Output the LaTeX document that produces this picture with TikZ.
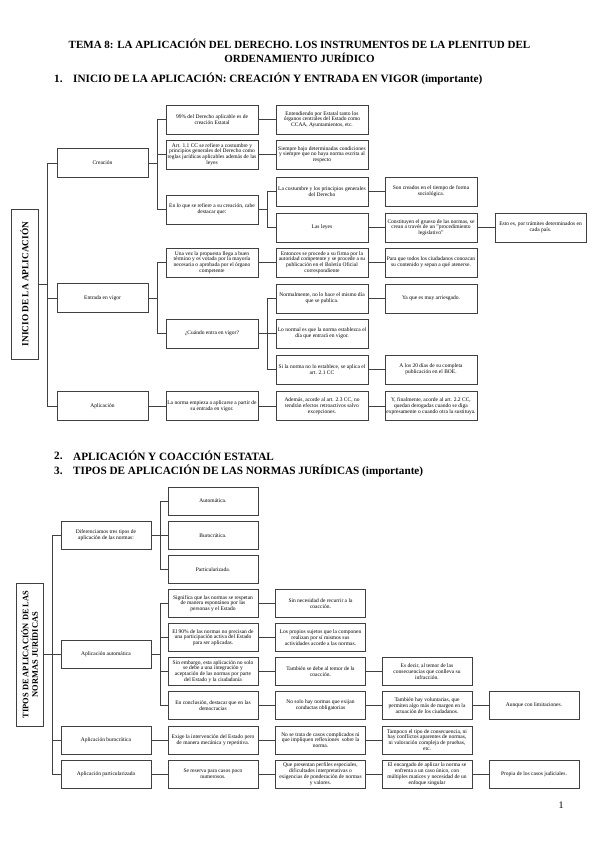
\documentclass[tikz,border=0pt]{standalone}
\usepackage{fontspec}
\setmainfont{Liberation Serif}
\begin{document}
\begin{tikzpicture}[x=1pt,y=-1pt,
  bx/.style={draw=black!75, line width=0.8pt, minimum width=92pt, minimum height=29pt, align=center, inner sep=0.3pt, font=\fontsize{5.5}{5.8}\selectfont},
  bxb/.style={bx, minimum width=90pt, minimum height=28pt},
  ln/.style={draw=black!75, line width=0.8pt},
  rootbox/.style={draw=black!75, line width=0.8pt, align=center, font=\fontsize{9.3}{10}\selectfont\bfseries, rotate=90, inner sep=0pt},
  head/.style={anchor=west, font=\fontsize{11.2}{13}\selectfont\bfseries, inner sep=0pt}]
\useasboundingbox[fill=white] (0,0) rectangle (599,848);

% Titles
\node[font=\fontsize{11}{14}\selectfont\bfseries, align=center] (title) at (299.5,51) {TEMA 8: LA APLICACIÓN DEL DERECHO. LOS INSTRUMENTOS DE LA PLENITUD DEL\\ORDENAMIENTO JURÍDICO};
\node[head] (n1) at (54,79) {1.};
\node[head] (h1) at (73,79) {INICIO DE LA APLICACIÓN: CREACIÓN Y ENTRADA EN VIGOR (importante)};

% ---------------- Diagram 1
\node[rootbox, minimum width=150pt, minimum height=27pt] (r1) at (24.5,284) {INICIO DE LA APLICACIÓN};

\node[bx, minimum width=91pt] (cre) at (102.5,163) {Creación};
\node[bx, minimum width=91pt] (ent) at (102.5,298) {Entrada en vigor};
\node[bx, minimum width=91pt] (apl) at (102.5,406) {Aplicación};

\node[bx] (d99) at (212,119.5) {99\% del Derecho aplicable es de\\creación Estatal};
\node[bx] (art) at (212,154.5) {Art. 1.1 CC se refiere a costumbre y\\principios generales del Derecho como\\reglas jurídicas aplicables además de las\\leyes};
\node[bx] (enlo) at (212,209.5) {En lo que se refiere a su creación, cabe\\destacar que:};
\node[bx] (una) at (212,262.5) {Una vez la propuesta llega a buen\\término y es votada por la mayoría\\necesaria o aprobada por el órgano\\competente};
\node[bx] (cuando) at (212,333.5) {¿Cuándo entra en vigor?};
\node[bx] (empieza) at (212,406) {La norma empieza a aplicarse a partir de\\su entrada en vigor.};

\node[bx] (entend) at (322,119.5) {Entendiendo por Estatal tanto los\\órganos centrales del Estado como\\CCAA, Ayuntamientos, etc.};
\node[bx] (siempre) at (322,154.5) {Siempre bajo determinadas condiciones\\y siempre que no haya norma escrita al\\respecto};
\node[bx] (cost) at (322,191.5) {La costumbre y los principios generales\\del Derecho};
\node[bx] (leyes) at (322,227.5) {Las leyes};
\node[bx] (entonces) at (322,262.5) {Entonces se procede a su firma por la\\autoridad competente y se procede a su\\publicación en el Boletín Oficial\\correspondiente};
\node[bx] (normal) at (322,298.5) {Normalmente, no lo hace el mismo día\\que se publica.};
\node[bx] (lonormal) at (322,333.5) {Lo normal es que la norma establezca el\\día que entrará en vigor.};
\node[bx] (sila) at (322,369.5) {Si la norma no lo establece, se aplica el\\art. 2.1 CC};
\node[bx] (ademas) at (322,406) {Además, acorde al art. 2.3 CC, no\\tendrán efectos retroactivos salvo\\excepciones.};

\node[bx] (son) at (431,191.5) {Son creados en el tiempo de forma\\sociológica.};
\node[bx] (const) at (431,227.5) {Constituyen el grueso de las normas, se\\crean a través de un "procedimiento\\legislativo"};
\node[bx] (para) at (431,262.5) {Para que todos los ciudadanos conozcan\\su contenido y sepan a qué atenerse.};
\node[bx] (yaque) at (431,298.5) {Ya que es muy arriesgado.};
\node[bx] (alos) at (431,369.5) {A los 20 días de su completa\\publicación en el BOE.};
\node[bx] (yfin) at (431,406) {Y, finalmente, acorde al art. 2.2 CC,\\quedan derogadas cuando se diga\\expresamente o cuando otra la sustituya.};

\node[bx, minimum width=91pt] (esto) at (540.5,227.5) {Esto es, por trámites determinados en\\cada país.};

\foreach \c in {cre,ent,apl} \draw[ln] (r1.south) -- ++(9,0) |- (\c.west);
\foreach \c in {d99,art,enlo} \draw[ln] (cre.east) -- ++(9,0) |- (\c.west);
\foreach \c in {una,cuando} \draw[ln] (ent.east) -- ++(9,0) |- (\c.west);
\draw[ln] (apl.east) -- (empieza.west);
\draw[ln] (d99.east) -- (entend.west);
\draw[ln] (art.east) -- (siempre.west);
\foreach \c in {cost,leyes} \draw[ln] (enlo.east) -- ++(9,0) |- (\c.west);
\draw[ln] (una.east) -- (entonces.west);
\foreach \c in {normal,lonormal,sila} \draw[ln] (cuando.east) -- ++(9,0) |- (\c.west);
\draw[ln] (empieza.east) -- (ademas.west);
\draw[ln] (cost.east) -- (son.west);
\draw[ln] (leyes.east) -- (const.west);
\draw[ln] (const.east) -- (esto.west);
\draw[ln] (entonces.east) -- (para.west);
\draw[ln] (normal.east) -- (yaque.west);
\draw[ln] (sila.east) -- (alos.west);
\draw[ln] (ademas.east) -- (yfin.west);

% ---------------- Headings 2, 3
\node[head] (n2) at (54,456) {2.};
\node[head] (h2) at (73,456) {APLICACIÓN Y COACCIÓN ESTATAL};
\node[head] (n3) at (54,471) {3.};
\node[head] (h3) at (73,471) {TIPOS DE APLICACIÓN DE LAS NORMAS JURÍDICAS (importante)};

% ---------------- Diagram 2
\node[rootbox, font=\fontsize{8.4}{9.6}\selectfont\bfseries, minimum width=143pt, minimum height=27pt] (r2) at (29.5,654.5) {TIPOS DE APLICACIÓN DE LAS\\NORMAS JURÍDICAS};

\node[bxb] (dif) at (106,535.5) {Diferenciamos tres tipos de\\aplicación de las normas:};
\node[bxb] (aauto) at (106,654.5) {Aplicación automática};
\node[bxb] (aburo) at (106,740) {Aplicación burocrática};
\node[bxb] (apart) at (106,774) {Aplicación particularizada};

\node[bxb] (autom) at (213,501) {Automática.};
\node[bxb] (buro) at (213,535.5) {Burocrática.};
\node[bxb] (partic) at (213,569.5) {Particularizada.};
\node[bxb] (signif) at (213,603.5) {Significa que las normas se respetan\\de manera espontánea por las\\personas y el Estado};
\node[bxb] (noventa) at (213,637.5) {El 90\% de las normas no precisan de\\una participación activa del Estado\\para ser aplicadas.};
\node[bxb] (sinemb) at (213,671.5) {Sin embargo, esta aplicación no solo\\se debe a una integración y\\aceptación de las normas por parte\\del Estado y la ciudadanía};
\node[bxb] (encon) at (213,705.5) {En conclusión, destacar que en las\\democracias};
\node[bxb] (exige) at (213,740) {Exige la intervención del Estado pero\\de manera mecánica y repetitiva.};
\node[bxb] (reserva) at (213,774) {Se reserva para casos poco\\numerosos.};

\node[bxb] (sinnec) at (320.5,603.5) {Sin necesidad de recurrir a la\\coacción.};
\node[bxb] (propios) at (320.5,637.5) {Los propios sujetos que la componen\\realizan por sí mismos sus\\actividades acorde a las normas.};
\node[bxb] (tambien) at (320.5,671.5) {También se debe al temor de la\\coacción.};
\node[bxb] (nosolo) at (320.5,705.5) {No solo hay normas que exijan\\conductas obligatorias};
\node[bxb] (notrata) at (320.5,740) {No se trata de casos complicados ni\\que impliquen reflexiones\ \ sobre la\\norma.};
\node[bxb] (quepres) at (320.5,774) {Que presentan perfiles especiales,\\dificultades interpretativas o\\exigencias de ponderación de normas\\y valores.};

\node[bxb] (esdecir) at (427,671.5) {Es decir, al temor de las\\consecuencias que conlleva su\\infracción.};
\node[bxb] (tamvol) at (427,705.5) {También hay voluntarias, que\\permiten algo más de margen en la\\actuación de los ciudadanos.};
\node[bxb] (tampoco) at (427,740) {Tampoco el tipo de consecuencia, ni\\hay conflictos aparentes de normas,\\ni valoración compleja de pruebas,\\etc.};
\node[bxb] (encarg) at (427,774) {El encargado de aplicar la norma se\\enfrenta a un caso único, con\\múltiples matices y necesidad de un\\enfoque singular};

\node[bxb] (aunque) at (534,705.5) {Aunque con limitaciones.};
\node[bxb] (propia) at (534,774) {Propia de los casos judiciales.};

\foreach \c in {dif,aauto,aburo,apart} \draw[ln] (r2.south) -- ++(9,0) |- (\c.west);
\foreach \c in {autom,buro,partic} \draw[ln] (dif.east) -- ++(8.5,0) |- (\c.west);
\foreach \c in {signif,noventa,sinemb,encon} \draw[ln] (aauto.east) -- ++(8.5,0) |- (\c.west);
\draw[ln] (aburo.east) -- (exige.west);
\draw[ln] (apart.east) -- (reserva.west);
\draw[ln] (signif.east) -- (sinnec.west);
\draw[ln] (noventa.east) -- (propios.west);
\draw[ln] (sinemb.east) -- (tambien.west);
\draw[ln] (encon.east) -- (nosolo.west);
\draw[ln] (exige.east) -- (notrata.west);
\draw[ln] (reserva.east) -- (quepres.west);
\draw[ln] (tambien.east) -- (esdecir.west);
\draw[ln] (nosolo.east) -- (tamvol.west);
\draw[ln] (notrata.east) -- (tampoco.west);
\draw[ln] (quepres.east) -- (encarg.west);
\draw[ln] (tamvol.east) -- (aunque.west);
\draw[ln] (encarg.east) -- (propia.west);

\node[font=\fontsize{10}{11}\selectfont] (pg) at (561,805) {1};
\end{tikzpicture}
\end{document}
